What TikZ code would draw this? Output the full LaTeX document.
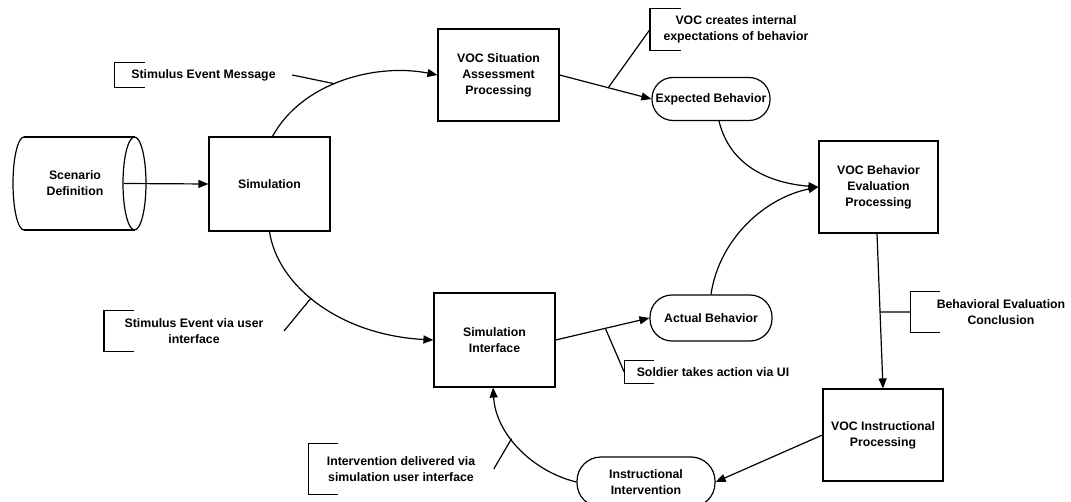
\documentclass[tikz,border=0pt]{standalone}
\usepackage{fontspec}
\setmainfont{Liberation Sans}
\usetikzlibrary{arrows.meta,calc}
\newcommand{\annbr}[2]{\draw ([xshift=#2]#1.north west) -- (#1.north west) -- (#1.south west) -- ([xshift=#2]#1.south west);}
\begin{document}
\begin{tikzpicture}[x=1pt,y=-1pt, line width=1.2pt,
  font=\fontsize{12.3}{16}\selectfont\bfseries,
  box/.style={draw, rectangle, align=center, inner sep=2pt},
  pill/.style={draw, rectangle, rounded corners=#1, align=center, inner sep=2pt},
  arr/.style={-{Triangle[length=10pt,width=8pt]}},
  ann/.style={align=center, inner ysep=0pt}]
\useasboundingbox (0,0) rectangle (1071,502);

% scenario cylinder
\draw (24,137) -- (135,137) (24,230) -- (135,230);
\draw (24,137) arc[start angle=270, end angle=90, x radius=11, y radius=46.5];
\draw (134.5,183.5) ellipse [x radius=11.5, y radius=46.5];
\node[align=center] (scen) at (75,183.5) {Scenario\\Definition};

% boxes
\node[box, minimum width=121pt, minimum height=94pt] (sim) at (269.5,184) {Simulation};
\node[box, minimum width=121pt, minimum height=92pt] (vsa) at (498.5,75) {VOC Situation\\Assessment\\Processing};
\node[box, minimum width=119pt, minimum height=92pt] (vbe) at (878.5,187) {VOC Behavior\\Evaluation\\Processing};
\node[box, minimum width=121pt, minimum height=94pt] (simi) at (494.5,340) {Simulation\\Interface};
\node[box, minimum width=120pt, minimum height=92pt] (vip) at (883,435) {VOC Instructional\\Processing};

% pills
\node[pill=21pt, minimum width=118pt, minimum height=43pt] (exp) at (711,99) {Expected Behavior};
\node[pill=22pt, minimum width=122pt, minimum height=46pt] (act) at (711,318) {Actual Behavior};
\node[pill=24pt, minimum width=138pt, minimum height=50pt] (ii) at (646,482) {Instructional\\Intervention};

% annotations
\node[ann, inner xsep=16pt, minimum height=24pt] (a1) at (203.5,75) {Stimulus Event Message};
\node[ann, inner xsep=13pt, minimum height=41pt] (a2) at (736,29.5) {VOC creates internal\\expectations of behavior};
\node[ann, inner xsep=20pt, minimum height=40pt] (a3) at (194,331) {Stimulus Event via user\\interface};
\node[ann, inner xsep=12pt, minimum height=22pt] (a4) at (713,372) {Soldier takes action via UI};
\node[ann, inner xsep=26pt, minimum height=40pt] (a5) at (1001,312) {Behavioral Evaluation\\Conclusion};
\node[ann, inner xsep=18pt, minimum height=50pt] (a6) at (401,469) {Intervention delivered via\\simulation user interface};

\annbr{a1}{30pt}
\annbr{a2}{31pt}
\annbr{a3}{30pt}
\annbr{a4}{30pt}
\annbr{a5}{30pt}
\annbr{a6}{30pt}

% connectors
\draw[arr] ([xshift=-11pt]scen.east -| 135,0) -- (sim.west);
\draw[arr] ([xshift=3pt]sim.north) .. controls +(30,-55) and +(-60,-12) .. (vsa.west) coordinate[pos=0.45] (m1);
\draw[arr] (vsa.east) -- (exp.west) coordinate[pos=0.53] (m2);
\draw[arr] ([xshift=8pt]exp.south) .. controls +(11,45) and +(-49,-4) .. (vbe.west);
\draw[arr] (act.north) .. controls +(8,-55) and +(-54,11) .. (vbe.west);
\draw[arr] (simi.east) -- (act.west) coordinate[pos=0.53] (m4);
\draw[arr] (sim.south) .. controls +(8,54) and +(-94,-5) .. (simi.west) coordinate[pos=0.45] (m3);
\draw[arr] ([xshift=-1.5pt]vbe.south) -- (vip.north) coordinate[pos=0.506] (m5);
\draw[arr] (vip.west) -- (ii.east);
\draw[arr] (ii.west) .. controls +(-42,-10) and +(3,48) .. ([xshift=-1.5pt]simi.south) coordinate[pos=0.6] (m6);

% leaders
\draw (a1.east) -- (m1);
\draw (a2.west) -- (m2);
\draw (a3.east) -- (m3);
\draw (a4.west) -- (m4);
\draw (a5.west) -- (m5);
\draw (a6.east) -- (m6);
\end{tikzpicture}
\end{document}
